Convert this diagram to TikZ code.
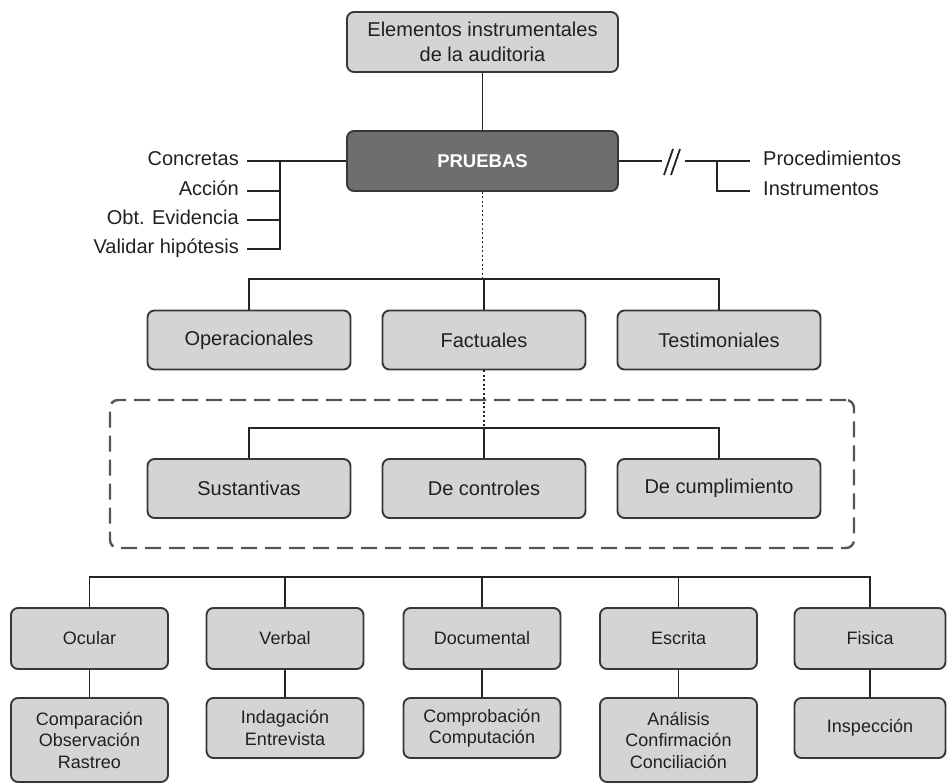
\documentclass[tikz,border=0pt]{standalone}
\usepackage{fontspec}
\setmainfont{Liberation Sans}
\definecolor{boxC}{RGB}{212,212,212}
\definecolor{darkC}{RGB}{110,110,110}
\definecolor{edgeC}{RGB}{55,55,55}
\definecolor{txtC}{RGB}{32,32,32}
\definecolor{lineC}{RGB}{36,36,36}
\definecolor{dashC}{RGB}{85,85,85}
\begin{document}
\begin{tikzpicture}[x=1pt,y=-1pt,
  box/.style={draw=edgeC, line width=1.9pt, fill=boxC, rounded corners=7pt,
    text=txtC, align=center, inner sep=0pt},
  bigtxt/.style={font=\fontsize{20}{25}\selectfont},
  smalltxt/.style={font=\fontsize{18}{21.5}\selectfont},
  darkbox/.style={box, fill=darkC, text=white, font=\fontsize{18.5}{22}\selectfont\bfseries},
  lvltwo/.style={box, bigtxt, minimum width=203pt, minimum height=59pt},
  lvlthree/.style={box, smalltxt, minimum width=157pt, minimum height=61pt},
  lvlfour/.style={box, smalltxt, minimum width=157pt},
  lab/.style={text=txtC, font=\fontsize{20}{23}\selectfont, inner ysep=0pt,
    text height=14pt, text depth=4pt},
  conn/.style={draw=lineC, line width=1.8pt},
  dots/.style={draw=lineC, line width=1.7pt, dash pattern=on 2pt off 2.5pt},
  frame/.style={draw=dashC, line width=2.4pt, dash pattern=on 16pt off 8pt, rounded corners=8pt, inner sep=0pt}
]
\useasboundingbox (0,0) rectangle (947,783);

% top
\node[box, bigtxt, minimum width=271pt, minimum height=60pt] (top) at (482.5,42) {Elementos instrumentales\\de la auditoria};
\node[darkbox, minimum width=271pt, minimum height=60pt] (pru) at (482.5,161) {PRUEBAS};
\draw[conn] (top) -- (pru);

% left labels
\node[lab, anchor=east, inner xsep=8pt] (l1) at (247,161) {Concretas};
\node[lab, anchor=east, inner xsep=8pt] (l2) at (247,191) {Acción};
\node[lab, anchor=east, inner xsep=8pt] (l3) at (247,220) {Obt. Evidencia};
\node[lab, anchor=east, inner xsep=8pt] (l4) at (247,249) {Validar hipótesis};
\coordinate (brk) at (280,161);
\draw[conn] (l1.east) -- (pru.west);
\draw[conn] (l4.east) -| (brk);
\draw[conn] (l2.east) -- (brk |- l2.east);
\draw[conn] (l3.east) -- (brk |- l3.east);

% right labels
\node[lab, anchor=west, inner xsep=13pt] (proc) at (750,161) {Procedimientos};
\node[lab, anchor=west, inner xsep=13pt] (ins) at (750,191) {Instrumentos};
\coordinate (s1) at (662,161);
\coordinate (s2) at (685,161);
\coordinate (rb) at (717,161);
\draw[conn] (pru.east) -- (s1);
\draw[conn] (s2) -- (proc.west);
\draw[conn] (rb) |- (ins.west);
\draw[conn] (664,175) -- (673,149);
\draw[conn] (671,175) -- (680,149);

% level 2
\node[lvltwo] (ope) at (249,340) {Operacionales};
\node[lvltwo] (fac) at (484,340) {Factuales};
\node[lvltwo] (tes) at (719,340) {Testimoniales};
\coordinate (bar1) at (484,279);
\draw[dots] (pru.south) -- (pru.south |- bar1);
\draw[conn] (ope.north) -- (ope.north |- bar1) -- (tes.north |- bar1) -- (tes.north);
\draw[conn] (fac.north) -- (fac.north |- bar1);

% dashed frame
\node[frame, minimum width=744pt, minimum height=148pt] (frm) at (482,474) {};
\node[lvltwo] (sus) at (249,488.5) {Sustantivas};
\node[lvltwo] (con) at (484,488.5) {De controles};
\node[lvltwo] (cum) at (719,488.5) {De cumplimiento};
\coordinate (bar2) at (484,428);
\draw[dots] (fac.south) -- (fac.south |- bar2);
\draw[conn] (sus.north) -- (sus.north |- bar2) -- (cum.north |- bar2) -- (cum.north);
\draw[conn] (con.north) -- (con.north |- bar2);

% level 3
\node[lvlthree] (ocu) at (89.5,638.5) {Ocular};
\node[lvlthree] (ver) at (285,638.5) {Verbal};
\node[lvlthree] (doc) at (482,638.5) {Documental};
\node[lvlthree] (esc) at (678.5,638.5) {Escrita};
\node[lvlthree, minimum width=151pt] (fis) at (870,638.5) {Fisica};
\coordinate (bar3) at (482,577);
\draw[conn] (ocu.north) -- (ocu.north |- bar3) -- (fis.north |- bar3) -- (fis.north);
\draw[conn] (ver.north) -- (ver.north |- bar3);
\draw[conn] (doc.north) -- (doc.north |- bar3);
\draw[conn] (esc.north) -- (esc.north |- bar3);

% level 4
\node[lvlfour, minimum height=84pt] (ocud) at (89.5,740) {Comparación\\Observación\\Rastreo};
\node[lvlfour, minimum height=60pt] (verd) at (285,728) {Indagación\\Entrevista};
\node[lvlfour, minimum height=60pt] (docd) at (482,728) {Comprobación\\Computación};
\node[lvlfour, minimum height=84pt] (escd) at (678.5,740) {Análisis\\Confirmación\\Conciliación};
\node[lvlfour, minimum width=151pt, minimum height=60pt] (fisd) at (870,728) {Inspección};
\draw[conn] (ocu) -- (ocud);
\draw[conn] (ver) -- (verd);
\draw[conn] (doc) -- (docd);
\draw[conn] (esc) -- (escd);
\draw[conn] (fis) -- (fisd);
\end{tikzpicture}
\end{document}
